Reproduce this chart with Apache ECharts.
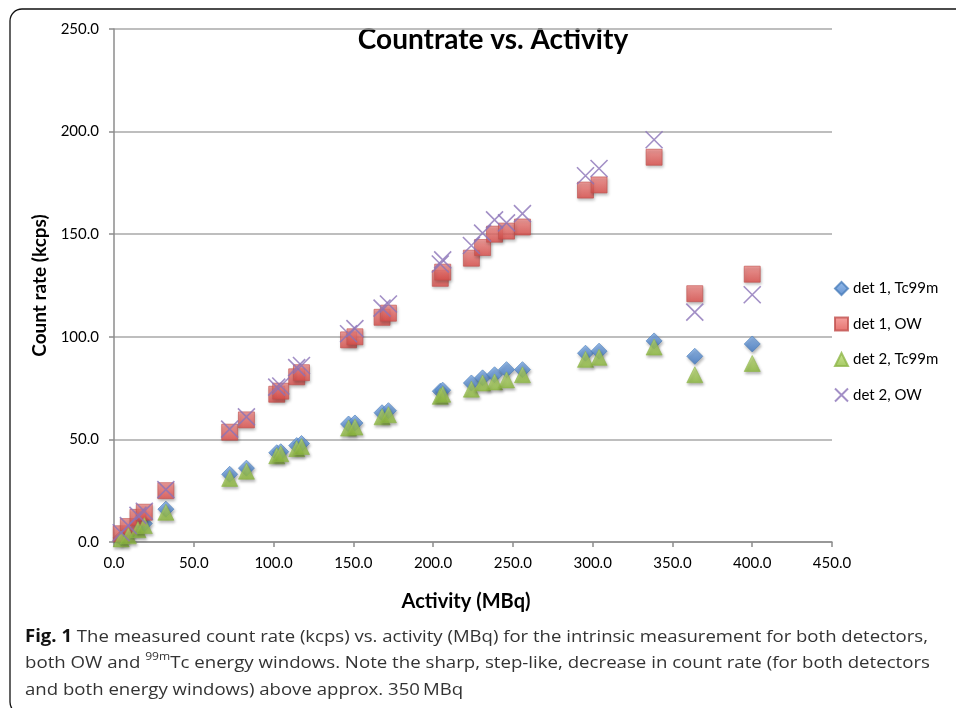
<!DOCTYPE html>
<html><head><meta charset="utf-8">
<script src="https://cdn.jsdelivr.net/npm/echarts@6/dist/echarts.min.js"></script>
<style>html,body{margin:0;padding:0;background:#fff}#c{width:956px;height:708px}</style>
</head><body><div id="c"></div>
<script>
// ---- data ----
const activity = [4.5, 9, 15, 19, 32.5, 72.5, 83, 102, 104.5, 114.5, 117.5, 147, 151, 168, 172, 204.5, 206, 224, 231, 238.5, 246, 256, 295.5, 304, 338.5, 364, 400];
const det1Tc = [2, 4, 7, 9, 16, 33, 36, 43.5, 44, 47, 48, 57.5, 58, 63, 64, 73.5, 74, 77.5, 80, 81.5, 84, 84, 92, 93, 98, 90.5, 96.5];
const det1OW = [4, 7.5, 12, 14.5, 25, 53.5, 59.5, 72, 73.5, 80.5, 82.5, 98.5, 100, 109.5, 111.5, 128.5, 131.5, 138.3, 143.5, 150, 151.5, 153.5, 171.5, 174, 187.5, 121, 130.5];
const det2Tc = [1.5, 3, 6, 8, 14.5, 31, 34.5, 42, 43, 45.5, 46.5, 55.5, 56, 61, 62, 71, 72, 74.5, 77.5, 78, 79, 81.5, 89, 90, 95, 81.5, 87];
const det2OW = [4.5, 8, 13, 15, 25.5, 55, 61, 75.5, 76, 85, 86, 101.5, 104, 114, 116, 135.5, 137.5, 144.5, 150.5, 157, 155.5, 160, 178.5, 182, 196, 112, 120.5];
const seriesNames = ['det 1, Tc99m', 'det 1, OW', 'det 2, Tc99m', 'det 2, OW'];
const chartTitle = 'Countrate vs. Activity';
const xName = 'Activity (MBq)';
const yName = 'Count rate (kcps)';
const captionLines = [
  [{t: 'Fig. 1', b: true}, {t: ' The measured count rate (kcps) vs. activity (MBq) for the intrinsic measurement for both detectors,'}],
  [{t: 'both OW and '}, {t: '99m', sup: true}, {t: 'Tc energy windows. Note the sharp, step-like, decrease in count rate (for both detectors'}],
  [{t: 'and both energy windows) above approx. 350\u2009MBq'}]
];

const pair = v => activity.map((a, i) => [a, v[i]]);
const grad = (a, b) => new echarts.graphic.LinearGradient(0, 0, 0, 1, [{offset: 0, color: a}, {offset: 1, color: b}]);
const shadow = {shadowBlur: 3, shadowOffsetY: 2, shadowOffsetX: 1, shadowColor: 'rgba(0,0,0,0.35)'};

// ---- caption layout (measure to fit target widths) ----
const FONT = '"Open Sans", "Noto Sans", sans-serif';
const ctx = document.createElement('canvas').getContext('2d');
function fontOf(seg) {
  if (seg.sup) return '11px ' + FONT;
  return (seg.b ? 'bold ' : '') + '17px ' + FONT;
}
function lineWidth(line) {
  return line.reduce((s, seg) => { ctx.font = fontOf(seg); return s + ctx.measureText(seg.t).width; }, 0);
}
const capX = 25, capY = [637, 663, 690];
const targets = [903, 905, null];
const scales = targets.map((t, i) => t ? t / lineWidth(captionLines[i]) : null);
scales[2] = (scales[0] + scales[1]) / 2;
const captionGraphics = [];
captionLines.forEach((line, i) => {
  let x = capX;
  line.forEach(seg => {
    ctx.font = fontOf(seg);
    const w = ctx.measureText(seg.t).width * scales[i];
    captionGraphics.push({
      type: 'text', x: x, y: capY[i] + (seg.sup ? -6 : 0), scaleX: scales[i],
      style: {text: seg.t, font: fontOf(seg), fill: seg.b ? '#111' : '#333',
        align: 'left', textAlign: 'left', verticalAlign: 'middle', textVerticalAlign: 'middle'}
    });
    x += w;
  });
});

const chart = echarts.init(document.getElementById('c'));
chart.setOption({
  animation: false,
  backgroundColor: '#fff',
  textStyle: {fontFamily: 'Lato, "Open Sans", sans-serif'},
  grid: {left: 114, right: 124, top: 29, bottom: 166, containLabel: false},
  xAxis: {
    type: 'value', min: 0, max: 450, interval: 50,
    name: xName, nameLocation: 'middle', nameGap: 50,
    nameTextStyle: {fontSize: 20, fontWeight: 'bold', color: '#000', fontFamily: 'Lato, sans-serif', padding: [0, 14, 0, 0]},
    axisLine: {show: true, lineStyle: {color: '#8c8c8c', width: 1.5}},
    axisTick: {show: true, length: 5, lineStyle: {color: '#8c8c8c', width: 1.5}},
    axisLabel: {fontSize: 15, color: '#000', margin: 14, formatter: v => v.toFixed(1)},
    splitLine: {show: false}
  },
  yAxis: {
    type: 'value', min: 0, max: 250, interval: 50,
    name: yName, nameLocation: 'middle', nameGap: 56, nameRotate: 90,
    nameTextStyle: {fontSize: 19, fontWeight: 'bold', color: '#000', fontFamily: 'Lato, sans-serif'},
    axisLine: {show: true, lineStyle: {color: '#8c8c8c', width: 1.5}},
    axisTick: {show: true, length: 5, lineStyle: {color: '#8c8c8c', width: 1.5}},
    axisLabel: {fontSize: 15, color: '#000', margin: 15, formatter: v => v.toFixed(1)},
    splitLine: {show: true, lineStyle: {color: '#a8a8a8', width: 1.5}}
  },
  legend: {
    orient: 'vertical', left: 829, top: 276, itemWidth: 13, itemHeight: 13, itemGap: 20.5,
    textStyle: {fontSize: 15, color: '#000', fontFamily: 'Lato, sans-serif'},
    data: seriesNames
  },
  series: [
    {name: seriesNames[0], type: 'scatter', symbol: 'diamond', symbolSize: [16, 16], data: pair(det1Tc),
      itemStyle: Object.assign({color: grad('#7FAEE8', '#3F78C4'), borderColor: '#4A7EBB', borderWidth: 0.8}, shadow)},
    {name: seriesNames[1], type: 'scatter', symbol: 'rect', symbolSize: 16, data: pair(det1OW),
      itemStyle: Object.assign({color: grad('#F38C89', '#DF4E4A'), borderColor: '#C0504D', borderWidth: 0.8}, shadow)},
    {name: seriesNames[2], type: 'scatter', symbol: 'triangle', symbolSize: [16, 16], data: pair(det2Tc),
      itemStyle: Object.assign({color: grad('#C2E07A', '#8DBB3C'), borderColor: '#8FB74A', borderWidth: 0.8}, shadow)},
    {name: seriesNames[3], type: 'scatter', symbol: 'path://M0,0L10,10M10,0L0,10', symbolSize: 17, data: pair(det2OW),
      itemStyle: {color: 'rgba(0,0,0,0)', borderColor: '#8B73B8', borderWidth: 1.6}}
  ],
  graphic: [
    {type: 'rect', x: 10, y: 9, z: -1, shape: {x: 0, y: 0, width: 1000, height: 705, r: 12},
      style: {fill: 'none', stroke: '#111', lineWidth: 1.3}},
    {type: 'text', x: 493, y: 40,
      style: {text: chartTitle, font: 'bold 28px Lato, "Open Sans", sans-serif', fill: '#000',
        align: 'center', textAlign: 'center', verticalAlign: 'middle', textVerticalAlign: 'middle'}}
  ].concat(captionGraphics)
});
</script></body></html>
